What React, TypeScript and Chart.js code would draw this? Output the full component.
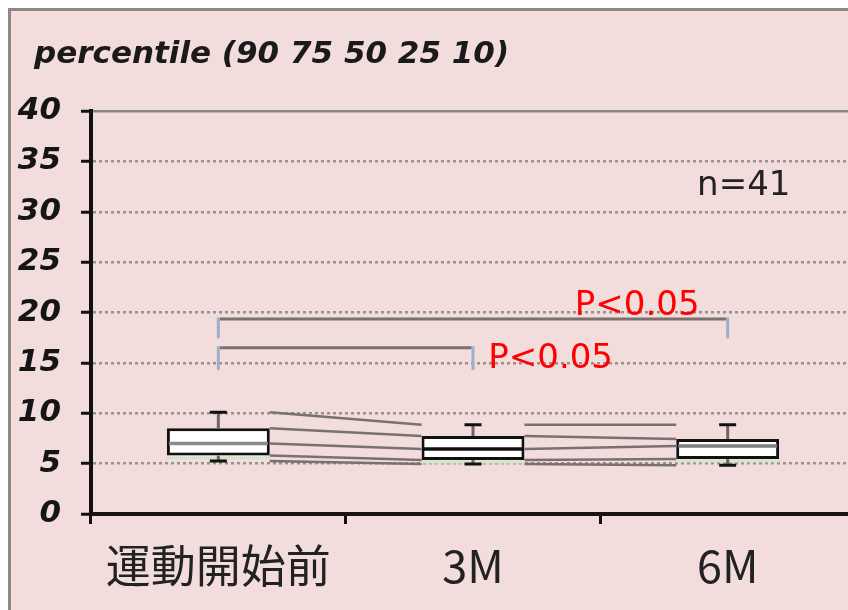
import React, { useEffect, useRef } from "react";
import { Chart, registerables } from "chart.js";

Chart.register(...registerables);

const categories = ["運動開始前", "3M", "6M"];
const p90 = [10.1, 8.86, 8.86];
const p75 = [8.5, 7.75, 7.44];
const p50 = [7.0, 6.45, 6.75];
const p25 = [5.8, 5.35, 5.47];
const p10 = [5.25, 4.97, 4.85];
const medianColors = ["#8a8a8a", "#111111", "#7c7c7c"];
const yTicks = [0, 5, 10, 15, 20, 25, 30, 35, 40];
const titleText = "percentile (90 75 50 25 10)";
const nText = "n=41";
// brackets: [fromIndex, toIndex, level, tickBottom]
const brackets = [
  [0, 2, 19.35, 17.45],
  [0, 1, 16.5, 14.3],
];
const pTexts = ["P<0.05", "P<0.05"];
// anchor [categoryIndex (fractional), value]
const pTextAnchors = [
  [1.4, 19.75],
  [1.06, 14.5],
];
const nAnchor = [1.88, 31.7];

const overlay = {
  id: "overlay",
  beforeDraw(chart: any) {
    const { ctx, width, height } = chart;
    ctx.save();
    ctx.fillStyle = "#ffffff";
    ctx.fillRect(0, 0, width, height);
    ctx.fillStyle = "#f2dcdc";
    ctx.fillRect(8, 8, width - 8, height - 8);
    ctx.fillStyle = "#8c8888";
    ctx.fillRect(8, 8, width - 8, 3);
    ctx.fillRect(8, 8, 3, height - 8);
    ctx.restore();
  },
  afterDatasetsDraw(chart: any) {
    const { ctx, scales } = chart;
    const y = scales.y;
    const x = scales.x;
    const meta = chart.getDatasetMeta(0);
    const boxes = meta.data.map((bar: any) => {
      const p = bar.getProps(["x", "width"], true);
      return { cx: p.x, left: p.x - p.width / 2, right: p.x + p.width / 2 };
    });
    ctx.save();
    ctx.lineCap = "butt";
    ctx.strokeStyle = "#7a7070";
    ctx.lineWidth = 2.5;
    const series = [p90, p75, p50, p25, p10];
    for (let i = 0; i < boxes.length - 1; i++) {
      series.forEach((s) => {
        ctx.beginPath();
        ctx.moveTo(boxes[i].right, y.getPixelForValue(s[i]));
        ctx.lineTo(boxes[i + 1].left, y.getPixelForValue(s[i + 1]));
        ctx.stroke();
      });
    }
    boxes.forEach((b: any, i: number) => {
      ctx.strokeStyle = "#c4ecc4";
      ctx.lineWidth = 2;
      ctx.beginPath();
      ctx.moveTo(b.left, y.getPixelForValue(p25[i]) + 2.5);
      ctx.lineTo(b.right, y.getPixelForValue(p25[i]) + 2.5);
      ctx.stroke();
      ctx.strokeStyle = "#6e6666";
      ctx.lineWidth = 3;
      ctx.beginPath();
      ctx.moveTo(b.cx, y.getPixelForValue(p75[i]));
      ctx.lineTo(b.cx, y.getPixelForValue(p90[i]));
      ctx.moveTo(b.cx, y.getPixelForValue(p25[i]));
      ctx.lineTo(b.cx, y.getPixelForValue(p10[i]));
      ctx.stroke();
      ctx.strokeStyle = "#111";
      ctx.beginPath();
      ctx.moveTo(b.cx - 8.5, y.getPixelForValue(p90[i]));
      ctx.lineTo(b.cx + 8.5, y.getPixelForValue(p90[i]));
      ctx.moveTo(b.cx - 8.5, y.getPixelForValue(p10[i]));
      ctx.lineTo(b.cx + 8.5, y.getPixelForValue(p10[i]));
      ctx.stroke();
      ctx.strokeStyle = medianColors[i];
      ctx.lineWidth = 3.5;
      ctx.beginPath();
      ctx.moveTo(b.left + 2, y.getPixelForValue(p50[i]));
      ctx.lineTo(b.right - 2, y.getPixelForValue(p50[i]));
      ctx.stroke();
    });
    const xAt = (f: number) => {
      const c0 = x.getPixelForValue(0);
      const c1 = x.getPixelForValue(1);
      return c0 + (c1 - c0) * f;
    };
    brackets.forEach(([a, b, lvl, bot]) => {
      const xa = xAt(a);
      const xb = xAt(b);
      const yl = y.getPixelForValue(lvl);
      const yb = y.getPixelForValue(bot);
      ctx.strokeStyle = "#9cb0cc";
      ctx.lineWidth = 3;
      ctx.beginPath();
      ctx.moveTo(xa, yl - 1.5);
      ctx.lineTo(xa, yb);
      ctx.moveTo(xb, yl - 1.5);
      ctx.lineTo(xb, yb);
      ctx.stroke();
      ctx.strokeStyle = "#7a7070";
      ctx.beginPath();
      ctx.moveTo(xa + 1.5, yl);
      ctx.lineTo(xb - 1.5, yl);
      ctx.stroke();
    });
    ctx.restore();
  },
  afterDraw(chart: any) {
    const { ctx, scales } = chart;
    const y = scales.y;
    const x = scales.x;
    const xAt = (f: number) => {
      const c0 = x.getPixelForValue(0);
      const c1 = x.getPixelForValue(1);
      return c0 + (c1 - c0) * f;
    };
    ctx.save();
    ctx.textBaseline = "alphabetic";
    ctx.textAlign = "left";
    ctx.fillStyle = "#1a1a1a";
    ctx.font = 'italic bold 31px "DejaVu Sans"';
    ctx.fillText(titleText, 34, 63);
    ctx.font = '34px "DejaVu Sans"';
    ctx.fillStyle = "#222";
    ctx.fillText(nText, xAt(nAnchor[0]), y.getPixelForValue(nAnchor[1]));
    ctx.fillStyle = "#ff0000";
    pTexts.forEach((t, i) => {
      ctx.fillText(t, xAt(pTextAnchors[i][0]), y.getPixelForValue(pTextAnchors[i][1]));
    });
    ctx.restore();
  },
};

export default function App() {
  const ref = useRef<HTMLCanvasElement>(null);
  useEffect(() => {
    if (!ref.current) return;
    const chart = new Chart(ref.current, {
      type: "bar",
      data: {
        labels: categories,
        datasets: [
          {
            data: categories.map((_, i) => [p25[i], p75[i]]) as any,
            backgroundColor: "#ffffff",
            borderColor: "#111111",
            borderWidth: 3,
            borderSkipped: false,
            barPercentage: 0.404,
            categoryPercentage: 1,
          },
        ],
      },
      options: {
        responsive: false,
        animation: false,
        devicePixelRatio: 1,
        layout: { padding: { top: 111, left: 0, right: 15, bottom: 0 } },
        plugins: {
          legend: { display: false },
          tooltip: { enabled: false },
          title: { display: false },
        },
        scales: {
          x: {
            offset: true,
            afterFit: (s: any) => {
              s.height = 96;
            },
            grid: {
              drawOnChartArea: false,
              drawTicks: true,
              tickLength: 10,
              tickColor: "#111",
              tickWidth: 3,
              offset: true,
            },
            border: { display: true, color: "#1a1414", width: 4 },
            ticks: {
              color: "#222",
              padding: 15,
              maxRotation: 0,
              font: { family: '"Noto Sans CJK JP"', size: 45 },
            },
          },
          y: {
            min: 0,
            max: 40,
            afterFit: (s: any) => {
              s.width = 91;
            },
            afterBuildTicks: (s: any) => {
              s.ticks = yTicks.map((v) => ({ value: v }));
            },
            grid: {
              color: (c: any) => (c.tick && c.tick.value === 40 ? "#8a8484" : "#9a8e8e"),
              lineWidth: 2.5,
              drawTicks: true,
              tickLength: 10,
              tickColor: "#111",
              tickWidth: 3,
            },
            border: {
              display: true,
              color: "#111",
              width: 4,
              dash: (c: any) => (c.tick && c.tick.value === 40 ? [] : [3, 3]),
            },
            ticks: {
              color: "#151515",
              padding: 20,
              font: { family: '"DejaVu Sans"', size: 31, style: "italic", weight: "bold" },
            },
          },
        },
      },
      plugins: [overlay],
    });
    return () => chart.destroy();
  }, []);
  return (
    <div
      style={{
        position: "fixed",
        left: 0,
        top: 0,
        width: 848,
        height: 610,
        overflow: "hidden",
      }}
    >
      <canvas ref={ref} width={870} height={610} style={{ width: 870, height: 610, display: "block" }} />
    </div>
  );
}
